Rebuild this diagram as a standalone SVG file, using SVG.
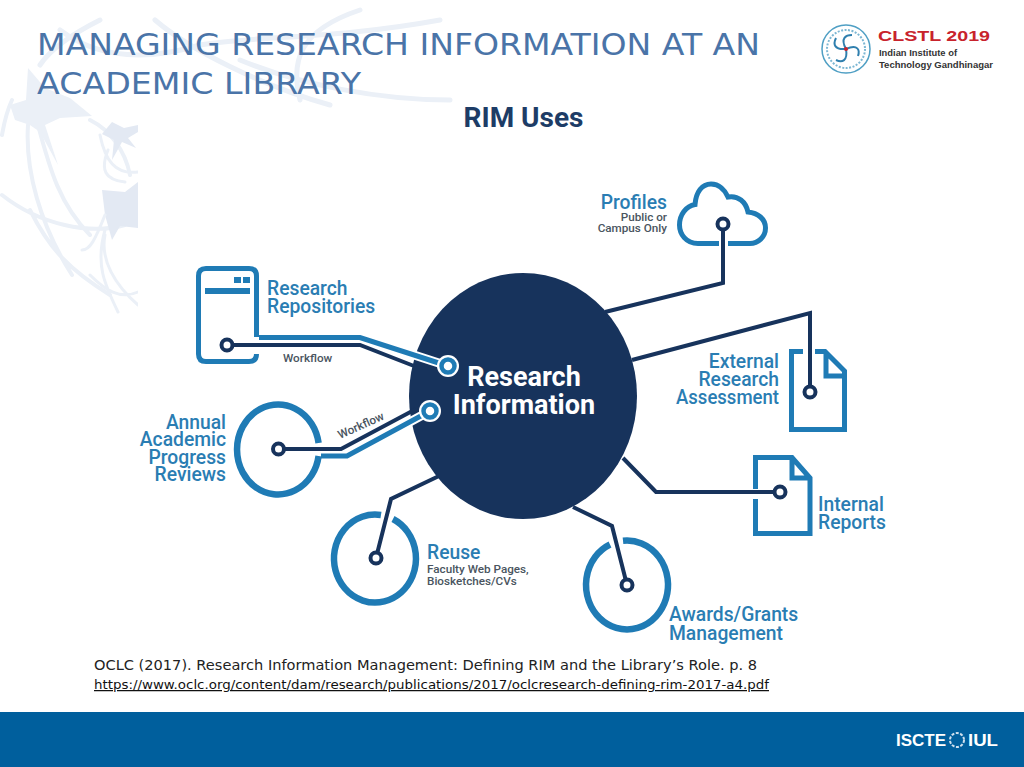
<svg xmlns="http://www.w3.org/2000/svg" width="1024" height="767" viewBox="0 0 1024 767">
<defs>
<style>
text{font-family:"Roboto","Liberation Sans",sans-serif}
.lb{font-size:19.300px;font-weight:500;fill:#2a7db3}
.sm{font-size:11.700px;font-weight:500;fill:#4a5560}
.bl{fill:none;stroke:#1f7bb5;stroke-width:5}
.rg{fill:none;stroke:#1f7bb5;stroke-width:6.500}
.dk{fill:none;stroke:#17335c;stroke-width:4;stroke-linejoin:miter}
.nd{fill:#fff;stroke:#17335c;stroke-width:4}
.wm{fill:none;stroke:#ebf0f7;stroke-linecap:round}
.end{text-anchor:end}
</style>
</defs>
<rect width="1024" height="767" fill="#fff"/>
<g id="watermark">
<path d="M28 68L45 88L70 98L92 116L60 118L45 125L58 165L40 132L30 125L15 120L10 105L26 100Z" fill="#ebf0f7"/>
<path class="wm" stroke-width="4" d="M12 100C5 115 3 130 2 135M28 125C25 170 40 225 72 275M38 125C50 170 60 205 90 235M2 195C40 225 90 235 125 225M30 210C50 250 70 270 110 295M90 120C110 130 125 150 130 175"/>
<path class="wm" stroke-width="5" d="M60 30C100 60 150 60 200 45C260 35 330 40 440 20M100 20C70 35 50 50 40 65M155 20C190 50 260 85 330 105M240 60C300 85 380 100 450 100M360 10C300 30 290 60 300 100"/>
<path d="M112 122L124 128L138 125V132L128 138L136 148L122 142L112 160L114 140L102 134Z" fill="#e3e9f3"/>
<path d="M102 190L125 192L138 182V228L120 226L112 240L105 215Z" fill="#e3e9f3"/>
<path class="wm" stroke-width="3" d="M108 150C100 170 105 180 125 182M100 135C105 160 115 175 138 172M105 215C95 240 90 250 82 250M105 235C100 260 115 285 138 305M90 275C105 290 120 300 138 292M118 312C105 285 95 265 105 230"/>
</g>
<rect x="138" y="110" width="886" height="602" fill="#fff"/>
<g id="title" fill="#4a74a8" style="font-size:31px">
<text x="37" y="55" textLength="723" lengthAdjust="spacingAndGlyphs" style="font-family:'DejaVu Sans',sans-serif">MANAGING RESEARCH INFORMATION AT AN</text>
<text x="37" y="94" textLength="324" lengthAdjust="spacingAndGlyphs" style="font-family:'DejaVu Sans',sans-serif">ACADEMIC LIBRARY</text>
</g>
<g id="clstl-logo">
<circle cx="846" cy="49" r="24" fill="none" stroke="#4f9fc4" stroke-width="1.500"/>
<circle cx="846" cy="49" r="19" fill="none" stroke="#7db7d3" stroke-width="2" stroke-dasharray="2 1.500"/>
<path d="M846 49C840 38 846 35 852 35M846 49C858 44 860 50 858 56M846 49C848 61 842 63 836 60M846 49C834 50 833 44 836 38" fill="none" stroke="#2f7fae" stroke-width="2"/>
<circle cx="846" cy="49" r="2" fill="#c8232c"/>
<text x="878" y="41" style="font-size:15px;font-weight:700;font-family:'Liberation Sans',sans-serif" fill="#c8232c" textLength="112" lengthAdjust="spacingAndGlyphs">CLSTL 2019</text>
<text x="879" y="56" style="font-size:9px;font-weight:700;font-family:'Liberation Sans',sans-serif" fill="#333" textLength="78" lengthAdjust="spacingAndGlyphs">Indian Institute of</text>
<text x="879" y="68" style="font-size:9px;font-weight:700;font-family:'Liberation Sans',sans-serif" fill="#333" textLength="114" lengthAdjust="spacingAndGlyphs">Technology Gandhinagar</text>
</g>
<text id="diagram-title" x="523.500" y="127" text-anchor="middle" style="font-size:28px;font-weight:700" fill="#1d3c66">RIM Uses</text>
<g id="connectors">
<path class="dk" d="M723 224V283L605 312"/>
<path class="dk" d="M632 360L810 313V392"/>
<path class="dk" d="M623 458L656 492H780"/>
<path class="dk" d="M376 558L391 499L439 476"/>
<path class="dk" d="M627 585L612 526L573 507"/>
</g>
<g id="research-information">
<ellipse cx="523" cy="396" rx="114" ry="123" fill="#17335c"/>
<text x="524" y="386" text-anchor="middle" style="font-size:27px;font-weight:700" fill="#fff">Research</text>
<text x="524" y="414" text-anchor="middle" style="font-size:27px;font-weight:700" fill="#fff">Information</text>
</g>
<g id="workflow-connectors">
<path class="dk" d="M227 345H360L414 366"/>
<path d="M360 337.500L448 366" fill="none" stroke="#fff" stroke-width="9"/>
<path class="bl" d="M259 337.500H360L448 366"/>
<path class="dk" d="M278 449H341L416 409"/>
<path d="M347 456L430 411" fill="none" stroke="#fff" stroke-width="9"/>
<path class="bl" d="M321 456H347L430 411"/>
</g>
<g id="repositories">
<path class="bl" d="M256.500 337V276Q256.500 268.500 249 268.500H206Q198.500 268.500 198.500 276V354Q198.500 361.500 206 361.500H249Q256.500 361.500 256.500 354"/>
<rect x="205" y="288" width="45" height="6" fill="#1f7bb5"/>
<rect x="234" y="277" width="7" height="6" fill="#1f7bb5"/>
<rect x="243" y="277" width="7" height="6" fill="#1f7bb5"/>
<circle class="nd" cx="227" cy="345" r="5.500"/>
<text class="lb" x="267" y="295">Research</text>
<text class="lb" x="267" y="313">Repositories</text>
<text class="sm" x="283" y="362">Workflow</text>
</g>
<g id="node-repo-end">
<circle cx="448" cy="366" r="11" fill="#fff"/>
<circle cx="448" cy="366" r="6.500" fill="#fff" stroke="#1f7bb5" stroke-width="4.500"/>
</g>
<g id="progress-reviews">
<path class="rg" d="M318.600 443A41 45 0 1 0 318.600 456"/>
<circle class="nd" cx="278.500" cy="449" r="5.500"/>
<text class="lb end" x="226" y="429">Annual</text>
<text class="lb end" x="226" y="446">Academic</text>
<text class="lb end" x="226" y="464">Progress</text>
<text class="lb end" x="226" y="481">Reviews</text>
<text class="sm" transform="translate(340 439) rotate(-24)">Workflow</text>
</g>
<g id="node-progress-end">
<circle cx="430" cy="411" r="11" fill="#fff"/>
<circle cx="430" cy="411" r="6.500" fill="#fff" stroke="#1f7bb5" stroke-width="4.500"/>
</g>
<g id="profiles">
<path class="bl" d="M719 243.500H698C686 243.500 679.500 234 679.500 225C679.500 215 686 206 695 204.500C696 192 702 184 711 184C719 184 725 190 728 197C738 195 746 202 748 212C758 213 765.500 219 765.500 228C765.500 237 758 243.500 750 243.500H728"/>
<circle class="nd" cx="723" cy="224" r="5.500"/>
<text class="lb end" x="667" y="209">Profiles</text>
<text class="sm end" x="667" y="221">Public or</text>
<text class="sm end" x="667" y="232">Campus Only</text>
</g>
<g id="external-assessment">
<path class="bl" d="M803 351.500H791.500V429.500H844.500V371L825 351.500H815M826 352V376H845"/>
<circle class="nd" cx="810" cy="392" r="5.500"/>
<text class="lb end" x="779" y="368">External</text>
<text class="lb end" x="779" y="386">Research</text>
<text class="lb end" x="779" y="404" textLength="103" lengthAdjust="spacingAndGlyphs">Assessment</text>
</g>
<g id="internal-reports">
<path class="bl" d="M755.500 489V457.500H792L810 478V533.500H755.500V499M792 458V478H810"/>
<circle class="nd" cx="780" cy="492" r="5.500"/>
<text class="lb" x="818" y="511">Internal</text>
<text class="lb" x="818" y="529">Reports</text>
</g>
<g id="reuse">
<path class="rg" d="M381 515A41 44 0 1 0 393 519"/>
<circle class="nd" cx="376" cy="558" r="5.500"/>
<text class="lb" x="427" y="559">Reuse</text>
<text class="sm" x="427" y="573">Faculty Web Pages,</text>
<text class="sm" x="427" y="585">Biosketches/CVs</text>
</g>
<g id="awards">
<path class="rg" d="M623 540.700A41 44.500 0 1 1 610 544.500"/>
<circle class="nd" cx="627" cy="585" r="5.500"/>
<text class="lb" x="669" y="621">Awards/Grants</text>
<text class="lb" x="669" y="640">Management</text>
</g>
<g id="citation" fill="#222">
<text x="94" y="670" textLength="663" lengthAdjust="spacingAndGlyphs" style="font-family:'DejaVu Sans',sans-serif;font-size:14.500px">OCLC (2017). Research Information Management: Defining RIM and the Library’s Role. p. 8</text>
<text x="94" y="689" textLength="675" lengthAdjust="spacingAndGlyphs" text-decoration="underline" style="font-family:'DejaVu Sans',sans-serif;font-size:12.500px" fill="#111">https://www.oclc.org/content/dam/research/publications/2017/oclcresearch-defining-rim-2017-a4.pdf</text>
</g>
<g id="footer">
<rect y="712" width="1024" height="55" fill="#005f9d"/>
<text x="896" y="746" textLength="50" lengthAdjust="spacingAndGlyphs" style="font-size:16px;font-weight:700;font-family:'Liberation Sans',sans-serif" fill="#fff">ISCTE</text>
<circle cx="957" cy="740" r="7" fill="none" stroke="#cfe0ee" stroke-width="2" stroke-dasharray="3 1.500"/>
<text x="968" y="746" textLength="30" lengthAdjust="spacingAndGlyphs" style="font-size:16px;font-weight:700;font-family:'Liberation Sans',sans-serif" fill="#fff">IUL</text>
</g>
</svg>
